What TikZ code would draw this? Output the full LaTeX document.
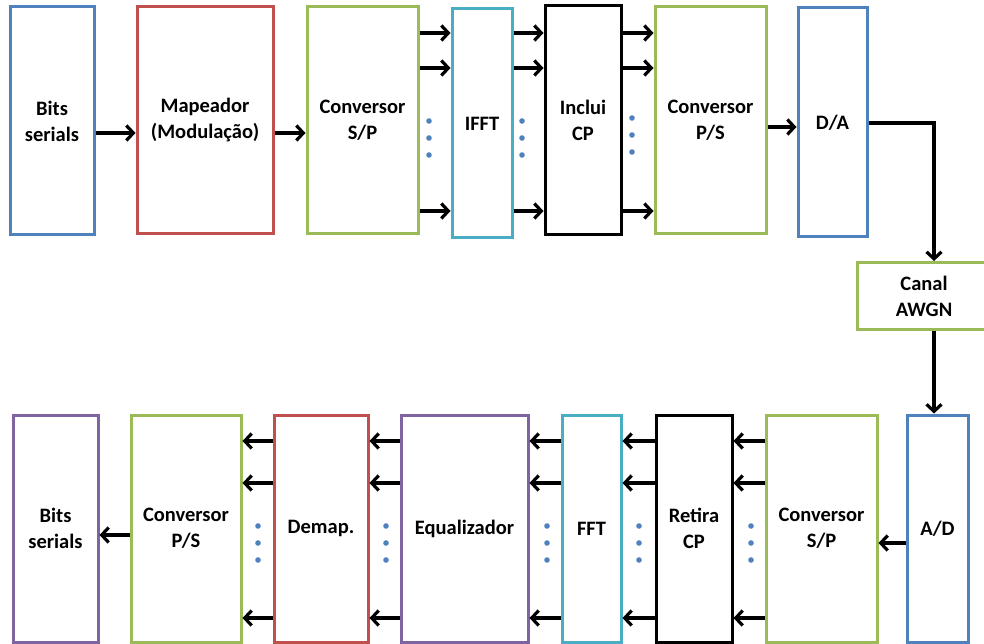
\documentclass[tikz,border=0pt]{standalone}
\usepackage{fontspec}
\setmainfont{Carlito}
\usetikzlibrary{arrows.meta}
\definecolor{cblue}{HTML}{4F81BD}
\definecolor{cred}{HTML}{C0504D}
\definecolor{cgreen}{HTML}{9BBB59}
\definecolor{ccyan}{HTML}{4BACC6}
\definecolor{cpurple}{HTML}{8064A2}
\tikzset{
  blk/.style={draw=#1, line width=3pt, rectangle, inner sep=0pt, align=center,
    font=\fontsize{20.5}{26}\selectfont\bfseries},
  arr/.style={draw=black, line width=3.4pt, -{Straight Barb[length=7pt,width=15pt,line width=3.2pt]}},
  dot/.style={fill=cblue, draw=none}
}
\begin{document}
\begin{tikzpicture}[x=1pt,y=-1pt]
\useasboundingbox (0,0) rectangle (984,644);
% top row
\node[blk=cblue, minimum width=84pt, minimum height=228pt] (bits1) at (52,121) {Bits\\serials};
\node[blk=cred, minimum width=136pt, minimum height=227pt] (map) at (205,120.5) {Mapeador\\(Modulação)};
\node[blk=cgreen, minimum width=111pt, minimum height=227pt] (sp1) at (362.5,120.5) {Conversor\\S/P};
\node[blk=ccyan, minimum width=60pt, minimum height=229pt] (ifft) at (482,123.5) {IFFT};
\node[blk=black, minimum width=76pt, minimum height=229pt] (icp) at (583,120.5) {Inclui\\CP};
\node[blk=cgreen, minimum width=111pt, minimum height=227pt] (ps1) at (710.5,120.5) {Conversor\\P/S};
\node[blk=cblue, minimum width=69pt, minimum height=229pt] (da) at (832.5,122.5) {D/A};
\node[blk=cgreen, minimum width=134pt, minimum height=67pt] (canal) at (924,296) {Canal\\AWGN};
% bottom row
\node[blk=cpurple, minimum width=85pt, minimum height=227pt] (bits2) at (55.5,528.5) {Bits\\serials};
\node[blk=cgreen, minimum width=110pt, minimum height=227pt] (ps2) at (186,528.5) {Conversor\\P/S};
\node[blk=cred, minimum width=94pt, minimum height=227pt] (demap) at (321,528.5) {Demap.};
\node[blk=cpurple, minimum width=127pt, minimum height=227pt] (eq) at (464.5,528.5) {Equalizador};
\node[blk=ccyan, minimum width=59pt, minimum height=227pt] (fft) at (591.5,528.5) {FFT};
\node[blk=black, minimum width=76pt, minimum height=227pt] (rcp) at (694,528.5) {Retira\\CP};
\node[blk=cgreen, minimum width=111pt, minimum height=227pt] (sp2) at (821.5,528.5) {Conversor\\S/P};
\node[blk=cblue, minimum width=61pt, minimum height=227pt] (ad) at (937.5,528.5) {A/D};
% helper coordinates
\coordinate (t0) at (0,133);
\coordinate (t1) at (0,33);
\coordinate (t2) at (0,68);
\coordinate (t3) at (0,211);
\coordinate (t4) at (0,127);
\coordinate (dx) at (934,123);
\coordinate (b0) at (0,535);
\coordinate (b1) at (0,441);
\coordinate (b2) at (0,483);
\coordinate (b3) at (0,618);
\coordinate (b4) at (0,543);
% top arrows
\draw[arr] (bits1.east |- t0) -- (map.west |- t0);
\draw[arr] (map.east |- t0) -- (sp1.west |- t0);
\foreach \r in {t1,t2,t3}{
  \draw[arr] (sp1.east |- \r) -- (ifft.west |- \r);
  \draw[arr] (ifft.east |- \r) -- (icp.west |- \r);
  \draw[arr] (icp.east |- \r) -- (ps1.west |- \r);
}
\draw[arr] (ps1.east |- t4) -- (da.west |- t4);
\draw[arr] (da.east |- dx) -- (dx) -- (canal.north -| dx);
\draw[arr] (canal.south -| dx) -- (ad.north -| dx);
% bottom arrows
\draw[arr] (ad.west |- b4) -- (sp2.east |- b4);
\foreach \r in {b1,b2,b3}{
  \draw[arr] (sp2.west |- \r) -- (rcp.east |- \r);
  \draw[arr] (rcp.west |- \r) -- (fft.east |- \r);
  \draw[arr] (fft.west |- \r) -- (eq.east |- \r);
  \draw[arr] (eq.west |- \r) -- (demap.east |- \r);
  \draw[arr] (demap.west |- \r) -- (ps2.east |- \r);
}
\draw[arr] (ps2.west |- b0) -- (bits2.east |- b0);
% dots
\foreach \x/\y in {429/121, 522/121, 632/118}{
  \foreach \d in {0,17,34}{ \fill[dot] (\x,\y+\d) circle (2.8pt); }
}
\foreach \x in {258,386,547,639,751}{
  \foreach \d in {0,17,34}{ \fill[dot] (\x,526+\d) circle (2.8pt); }
}
\end{tikzpicture}
\end{document}
